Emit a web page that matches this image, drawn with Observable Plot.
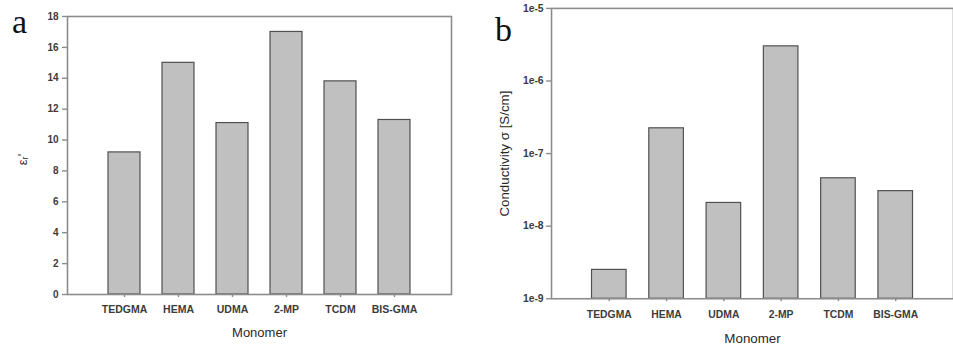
<!DOCTYPE html>
<html>
<head>
<meta charset="utf-8">
<script src="https://cdn.jsdelivr.net/npm/d3@7"></script>
<script src="https://cdn.jsdelivr.net/npm/@observablehq/plot@0.6"></script>
<style>
  html, body { margin: 0; padding: 0; background: #fff; overflow: hidden; }
  #wrap { position: relative; width: 953px; height: 354px; overflow: hidden; background: #fff; }
  .panel { position: absolute; top: 0; }
  .tag { position: absolute; font-family: "Liberation Serif", "Times New Roman", serif; font-size: 34px; line-height: 34px; color: #111; }
</style>
</head>
<body>
<div id="wrap">
  <div class="panel" id="pa" style="left:0px"></div>
  <div class="panel" id="pb" style="left:473px"></div>
  <div class="tag" style="left:12px; top:5px">a</div>
  <div class="tag" style="left:495px; top:13px">b</div>
</div>
<script>
// ---- data ----
const monomers = ["TEDGMA", "HEMA", "UDMA", "2-MP", "TCDM", "BIS-GMA"];
const permittivity = [9.2, 15.0, 11.1, 17.0, 13.8, 11.3];
const conductivity = [2.5e-9, 2.23e-7, 2.09e-8, 3.0e-6, 4.57e-8, 3.04e-8];
const yTicksA = [0, 2, 4, 6, 8, 10, 12, 14, 16, 18];
const yTicksB = [1e-9, 1e-8, 1e-7, 1e-6, 1e-5];
const yTickLabelsB = ["1e-9", "1e-8", "1e-7", "1e-6", "1e-5"];
const xLabel = "Monomer";
const yLabelA = "\u03b5\u1d63'";
const yLabelB = "Conductivity \u03c3 [S/cm]";

const dataA = monomers.map((m, i) => ({m, v: permittivity[i]}));
const dataB = monomers.map((m, i) => ({m, v: conductivity[i]}));

const font = "'Liberation Sans', Arial, Helvetica, sans-serif";
const barFill = "#c0c0c0";
const barStroke = "#505050";
const axisGray = "#8c8c8c";
const textCol = "#3c3c3c";

const plotA = Plot.plot({
  width: 470, height: 354,
  marginLeft: 67, marginRight: 19, marginTop: 16, marginBottom: 60,
  style: {fontFamily: font, background: "#fff"},
  x: {type: "band", domain: monomers, paddingInner: 0.4, paddingOuter: 0.7, label: null},
  y: {domain: [0, 18], label: null},
  marks: [
    Plot.barY(dataA, {x: "m", y: "v", fill: barFill, stroke: barStroke, strokeWidth: 1.2}),
    Plot.frame({stroke: axisGray, strokeWidth: 1.6}),
    Plot.axisY({ticks: yTicksA, tickSize: 5, tickPadding: 4, fontSize: 10, fontWeight: "bold",
      fill: textCol, stroke: axisGray, strokeWidth: 1.4, label: null}),
    Plot.axisX({tickSize: 3, tickPadding: 8, fontSize: 10.5, fontWeight: "bold",
      fill: textCol, stroke: axisGray, strokeWidth: 1.4, label: null}),
    Plot.text([xLabel], {frameAnchor: "bottom", lineAnchor: "middle", dy: 38, fontSize: 13, fill: "#2a2a2a", text: d => d}),
    Plot.text([yLabelA], {frameAnchor: "left", textAnchor: "middle", lineAnchor: "middle", dx: -45, dy: 4, rotate: -90, fontSize: 13, fill: "#2a2a2a", text: d => d})
  ]
});
document.getElementById("pa").appendChild(plotA);

const plotB = Plot.plot({
  width: 486, height: 354,
  marginLeft: 79, marginRight: 0, marginTop: 8, marginBottom: 52,
  style: {fontFamily: font, background: "#fff"},
  x: {type: "band", domain: monomers, paddingInner: 0.4, paddingOuter: 0.7, label: null},
  y: {type: "log", domain: [yTicksB[0], yTicksB[yTicksB.length - 1]], label: null},
  marks: [
    Plot.barY(dataB, {x: "m", y1: () => yTicksB[0], y2: "v", fill: barFill, stroke: barStroke, strokeWidth: 1.2}),
    Plot.frame({stroke: axisGray, strokeWidth: 1.6}),
    Plot.axisY({ticks: yTicksB, tickFormat: d => yTickLabelsB[yTicksB.indexOf(d)], tickSize: 5, tickPadding: 3,
      fontSize: 10.5, fontWeight: "bold", fill: textCol, stroke: axisGray, strokeWidth: 1.4, label: null}),
    Plot.axisX({tickSize: 3, tickPadding: 9, fontSize: 10.5, fontWeight: "bold",
      fill: textCol, stroke: axisGray, strokeWidth: 1.4, label: null}),
    Plot.text([xLabel], {frameAnchor: "bottom", lineAnchor: "middle", dy: 40, fontSize: 13.5, fill: "#2a2a2a", text: d => d}),
    Plot.text([yLabelB], {frameAnchor: "left", textAnchor: "middle", lineAnchor: "middle", dx: -47, rotate: -90, fontSize: 13.5, fill: "#2a2a2a", text: d => d})
  ]
});
document.getElementById("pb").appendChild(plotB);
</script>
</body>
</html>
